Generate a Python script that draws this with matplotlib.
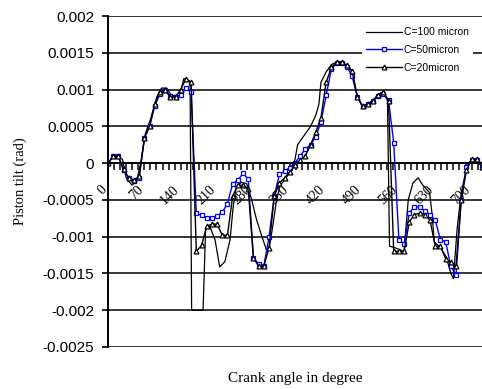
import matplotlib
matplotlib.use("Agg")
import matplotlib.pyplot as plt
import numpy as np
from matplotlib.transforms import offset_copy

# crank angle grid (deg) for the marker series
angles = list(range(0, 721, 10))

# C=50 micron (blue, squares)
c50 = [0.0, 0.00009, 0.00009, -0.0001, -0.0002, -0.00024, -0.0002, 0.00034, 0.0005, 0.00078,
       0.00094, 0.00099, 0.00091, 0.0009, 0.00092, 0.00102, 0.00096, -0.00068, -0.00071, -0.00074,
       -0.00074, -0.00072, -0.00067, -0.00055, -0.00028, -0.00023, -0.00014, -0.00022, -0.00129, -0.00137,
       -0.0014, -0.001, -0.00045, -0.00015, -0.00011, -0.00006, 0.0, 0.0001, 0.00019, 0.00025,
       0.00036, 0.00056, 0.00092, 0.00128, 0.00136, 0.00136, 0.00131, 0.00118, 0.0009, 0.00078,
       0.0008, 0.00085, 0.00091, 0.00094, 0.00086, 0.00028, -0.00104, -0.0011, -0.00068, -0.00059,
       -0.0006, -0.00065, -0.0007, -0.00078, -0.00104, -0.00107, -0.0014, -0.00152, -0.0005, -0.00005,
       0.00004, 0.00004, -0.00005]

# C=20 micron (black, triangles)
c20 = [0.0, 0.00009, 0.00009, -0.00008, -0.0002, -0.00023, -0.00018, 0.00034, 0.0005, 0.0008,
       0.00097, 0.00099, 0.0009, 0.0009, 0.001, 0.00115, 0.0011, -0.0012, -0.00112, -0.00086,
       -0.00083, -0.00083, -0.00098, -0.00098, -0.00045, -0.0003, -0.0003, -0.00035, -0.00129, -0.0014,
       -0.0014, -0.00115, -0.00045, -0.00027, -0.0002, -0.00012, -0.00003, 0.00004, 0.0001, 0.00025,
       0.00042, 0.00062, 0.0011, 0.0013, 0.00137, 0.00137, 0.00133, 0.00125, 0.0009, 0.00077,
       0.0008, 0.00085, 0.00093, 0.00097, 0.00085, -0.0012, -0.0012, -0.0012, -0.0008, -0.0007,
       -0.00068, -0.0007, -0.00078, -0.00113, -0.00113, -0.0013, -0.00135, -0.0014, -0.0005, -0.0001,
       0.00005, 0.00005, -0.00005]

# C=100 micron (plain black line), its own angles
angles_100 = [0, 10, 20, 28, 35, 46, 55, 63, 72, 82, 94, 103, 113, 122, 138, 146, 152, 158,
              161, 183, 188, 196, 206, 215, 225, 235, 241, 247, 257, 267, 276, 286, 296, 305,
              311, 318, 324, 331, 343, 350, 360, 365, 375, 390, 400, 406, 410, 420, 430, 440,
              450, 460, 470, 480, 490, 500, 510, 520, 530, 538, 542, 552, 570, 578, 587, 597,
              606, 619, 624, 628, 640, 651, 660, 665, 672, 680, 690, 700, 710, 720]
c100 = [0.0, 0.00009, 0.00009, 0.00005, -0.0002, -0.0003, -0.00025, 0.0, 0.0004, 0.0006, 0.0009,
        0.00102, 0.00102, 0.00092, 0.00092, 0.00115, 0.00113, 0.0011,
        -0.002, -0.002, -0.00088, -0.00086, -0.00104, -0.00141, -0.00134, -0.00104, -0.00059, -0.00032,
        -0.00026, -0.00028, -0.00048, -0.00077, -0.00099, -0.00118,
        -0.00113, -0.00082, -0.00052, -0.00031, -0.0002, -0.00012, 0.00005, 0.00025, 0.00035, 0.0005,
        0.00065, 0.0008, 0.0011, 0.00124, 0.00134, 0.00137,
        0.00137, 0.00133, 0.00125, 0.0009, 0.00077, 0.0008, 0.00085, 0.00093, 0.00097, 0.00085,
        -0.00113, -0.00115, -0.0012, -0.0005, -0.00027, -0.0002,
        -0.0003, -0.0004, -0.0007, -0.00107, -0.00115, -0.00127, -0.0015, -0.00157, -0.0009, -0.0004,
        -0.00008, 0.00005, 0.00005, -0.00005]

x_labels = list(range(0, 701, 70))
y_ticks = [0.002, 0.0015, 0.001, 0.0005, 0, -0.0005, -0.001, -0.0015, -0.002, -0.0025]
y_labels = ["0.002", "0.0015", "0.001", "0.0005", "0", "-0.0005", "-0.001", "-0.0015", "-0.002", "-0.0025"]

fig = plt.figure(figsize=(4.82, 3.89), dpi=100)
ax = fig.add_axes([108 / 482, 1 - 347 / 389, 1 - 108 / 482, (347 - 16) / 389])

ax.plot(angles_100, c100, color="black", lw=0.9, label="C=100 micron")
ax.plot(angles, c50, color="blue", lw=1.0, marker="s", ms=3.5, mfc="white", mec="blue",
        mew=0.9, label="C=50micron")
ax.plot(angles, c20, color="black", lw=1.0, marker="^", ms=3.5, mfc="white", mec="black",
        mew=0.9, label="C=20micron")

ax.set_xlim(0, 720)
ax.set_ylim(-0.0025, 0.002)
ax.set_yticks(y_ticks)
ax.set_yticklabels(y_labels, family="Liberation Sans", fontsize=11)
ax.yaxis.grid(True, color="black", lw=1.1)
ax.set_axisbelow(True)

ax.spines["top"].set_visible(False)
ax.spines["right"].set_visible(False)
ax.spines["bottom"].set_position(("data", 0))
ax.spines["left"].set_linewidth(1.4)
ax.spines["bottom"].set_linewidth(1.4)
ax.tick_params(axis="y", length=4, width=1.2, pad=6)

ax.set_xticks(np.arange(0, 721, 70 / 6))
ax.set_xticklabels([])
ax.tick_params(axis="x", direction="out", length=5, width=1.1)

trans = offset_copy(ax.transData, fig=fig, x=-8, y=-20, units="dots")
for a in x_labels:
    ax.text(a, 0, str(a), transform=trans, rotation=45, ha="right", va="top",
            rotation_mode="anchor", fontsize=10, family="Liberation Serif")

fig.text(0.041, 0.535, "Piston tilt (rad)", rotation=90, ha="center", va="center",
         fontsize=10.5, family="Liberation Serif")
fig.text(0.612, 0.028, "Crank angle in degree", ha="center", va="center",
         fontsize=11, family="Liberation Serif")

leg = ax.legend(loc="center", bbox_to_anchor=(0.866, 0.8715), bbox_transform=fig.transFigure,
                frameon=True, fancybox=False, edgecolor="none", facecolor="white", framealpha=1,
                prop={"family": "Liberation Sans", "size": 7.5}, handlelength=3.4,
                handletextpad=0.2, labelspacing=0.75, borderpad=0.4)

fig.savefig("out.png", dpi=100)
